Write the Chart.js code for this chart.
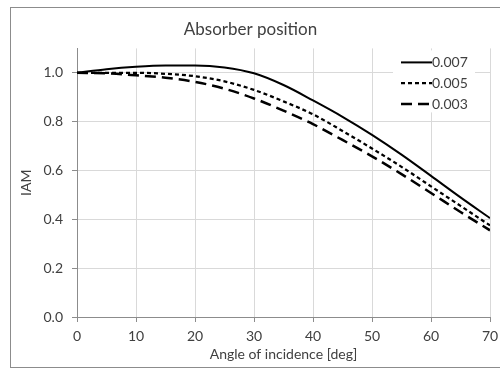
<!DOCTYPE html>
<html>
<head>
<meta charset="utf-8">
<script src="https://cdn.jsdelivr.net/npm/chart.js@4"></script>
<style>
  html, body { margin: 0; padding: 0; background: #fff; overflow: hidden; width: 500px; height: 369px; }
  #box {
    position: absolute; left: 10px; top: 7px;
    width: 490px; height: 361px; overflow: hidden;
    border: 1px solid #8c8c8c; border-right: none; box-sizing: border-box;
  }
  #chart { display: block; }
</style>
</head>
<body>
<div id="box"><canvas id="chart" width="499" height="359"></canvas></div>
<script>
const angles = [0, 5, 10, 15, 20, 25, 30, 35, 40, 45, 50, 55, 60, 65, 70];
const iam007 = [1.0, 1.015, 1.025, 1.03, 1.03, 1.022, 0.998, 0.95, 0.887, 0.82, 0.746, 0.665, 0.578, 0.49, 0.405];
const iam005 = [1.0, 1.0, 1.0, 0.996, 0.986, 0.965, 0.93, 0.883, 0.83, 0.762, 0.69, 0.615, 0.535, 0.455, 0.375];
const iam003 = [1.0, 0.998, 0.99, 0.98, 0.963, 0.935, 0.895, 0.845, 0.79, 0.725, 0.658, 0.585, 0.508, 0.43, 0.355];
const seriesNames = ["0.007", "0.005", "0.003"];
const xTicks = [0, 10, 20, 30, 40, 50, 60, 70];
const yTicks = [0, 0.2, 0.4, 0.6, 0.8, 1.0];

const textColor = "#404040";
const fontFamily = "Lato, 'Open Sans', sans-serif";

function toPoints(values) {
  return values.map((v, i) => ({ x: angles[i], y: v }));
}

// legend drawn inside the plot, top right, on a white patch
const insideLegend = {
  id: "insideLegend",
  afterDatasetsDraw(chart) {
    const { ctx, chartArea } = chart;
    const x0 = chartArea.right - 89;
    const y0 = chartArea.top + 14;
    const rowGap = 20.8;
    ctx.save();
    ctx.fillStyle = "#fff";
    ctx.fillRect(chartArea.right - 97, chartArea.top + 2, 82, 62);
    chart.data.datasets.forEach((ds, i) => {
      const y = y0 + i * rowGap;
      ctx.strokeStyle = ds.borderColor;
      ctx.lineWidth = ds.borderWidth;
      ctx.setLineDash(ds.borderDash || []);
      ctx.beginPath();
      ctx.moveTo(x0, y);
      ctx.lineTo(x0 + 31, y);
      ctx.stroke();
      ctx.setLineDash([]);
      ctx.fillStyle = textColor;
      ctx.font = "14px " + fontFamily;
      ctx.textBaseline = "middle";
      ctx.textAlign = "left";
      ctx.fillText(ds.label, x0 + 31, y);
    });
    ctx.restore();
  },
};

const ctx = document.getElementById("chart");
new Chart(ctx, {
  type: "line",
  data: {
    datasets: [
      {
        label: seriesNames[0],
        data: toPoints(iam007),
        borderColor: "#000",
        borderWidth: 2,
        borderDash: [],
      },
      {
        label: seriesNames[1],
        data: toPoints(iam005),
        borderColor: "#000",
        borderWidth: 2.25,
        borderDash: [4, 3],
      },
      {
        label: seriesNames[2],
        data: toPoints(iam003),
        borderColor: "#000",
        borderWidth: 2.5,
        borderDash: [11, 6],
      },
    ],
  },
  options: {
    responsive: false,
    animation: false,
    layout: { padding: { left: 0, right: 20, top: 0, bottom: 0 } },
    elements: {
      point: { radius: 0 },
      line: { cubicInterpolationMode: "monotone", fill: false },
    },
    plugins: {
      legend: { display: false },
      tooltip: { enabled: false },
      title: {
        display: true,
        text: "Absorber position",
        color: textColor,
        font: { family: fontFamily, size: 17, weight: "normal" },
        padding: { top: 11, bottom: 9 },
      },
    },
    scales: {
      x: {
        type: "linear",
        min: 0,
        max: 70,
        afterFit: (scale) => { scale.height = 50; },
        afterBuildTicks: (scale) => {
          scale.ticks = xTicks.map((v) => ({ value: v }));
        },
        ticks: {
          color: textColor,
          font: { family: fontFamily, size: 14 },
          padding: 6,
          maxRotation: 0,
        },
        grid: { color: "#d9d9d9", tickColor: "#8c8c8c", tickLength: 5 },
        border: { color: "#8c8c8c" },
        title: {
          display: true,
          text: "Angle of incidence [deg]",
          color: textColor,
          font: { family: fontFamily, size: 14 },
          padding: { top: 0, bottom: 4 },
        },
      },
      y: {
        min: 0,
        max: 1.1,
        afterFit: (scale) => { scale.width = 66; },
        afterBuildTicks: (scale) => {
          scale.ticks = yTicks.map((v) => ({ value: v }));
        },
        ticks: {
          color: textColor,
          font: { family: fontFamily, size: 14 },
          padding: 9,
          callback: (value) => value.toFixed(1),
        },
        grid: { color: "#d9d9d9", tickColor: "#8c8c8c", tickLength: 5 },
        border: { color: "#8c8c8c" },
        title: {
          display: true,
          text: "IAM",
          color: textColor,
          font: { family: fontFamily, size: 14 },
          padding: { top: 7, bottom: 0 },
        },
      },
    },
  },
  plugins: [insideLegend],
});
</script>
</body>
</html>
